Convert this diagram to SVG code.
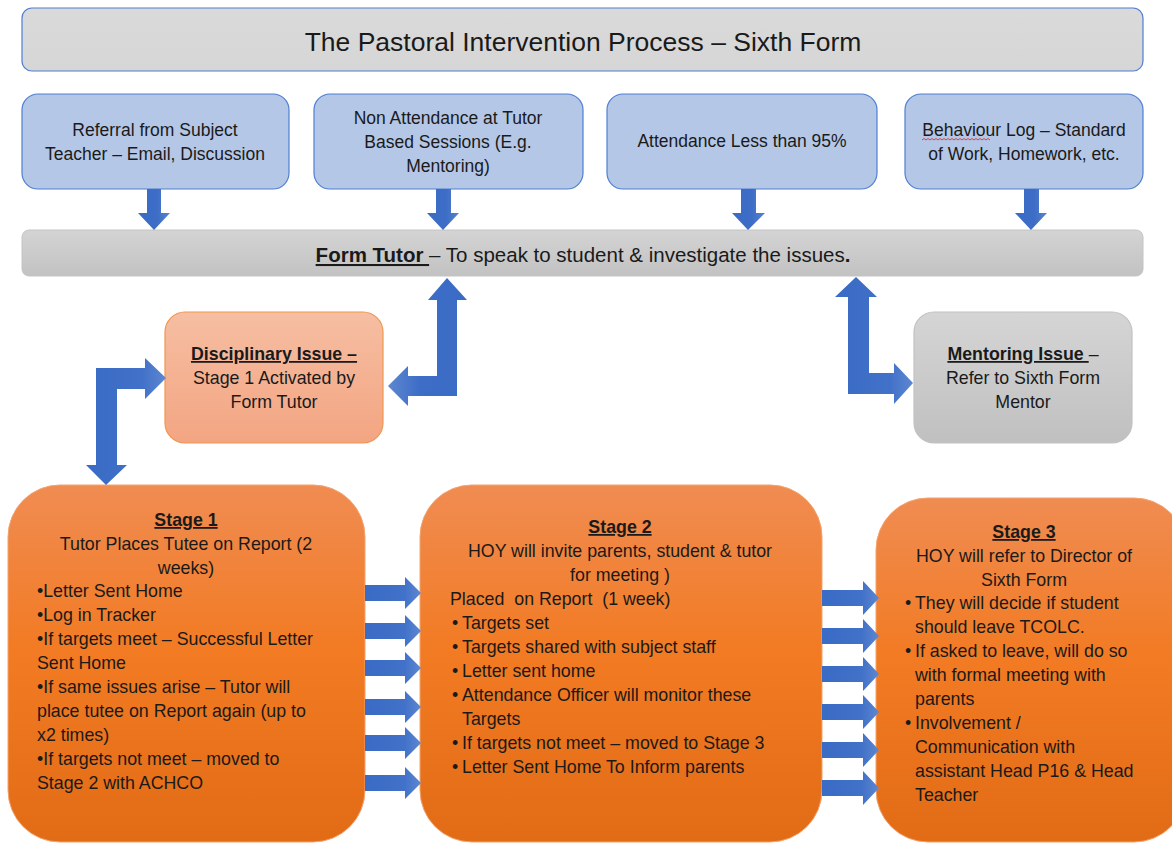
<svg xmlns="http://www.w3.org/2000/svg" width="1172" height="843" viewBox="0 0 1172 843">
<defs>
<style>
text{font-family:"Liberation Sans",Arial,sans-serif;fill:#1a1a1a}
.t16{font-size:17.8px}
.tb{font-size:17.5px}
.c{text-anchor:middle}
.b{font-weight:bold}
.u{text-decoration:underline}
.blue{fill:#b4c7e7;stroke:#4f7fd2;stroke-width:1.2}
.arr{fill:url(#ga)}
.arrh{fill:url(#gh)}
</style>
<linearGradient id="gtitle" x1="0" y1="0" x2="0" y2="1"><stop offset="0" stop-color="#dadada"/><stop offset="1" stop-color="#d6d6d6"/></linearGradient>
<linearGradient id="gbar" x1="0" y1="0" x2="0" y2="1"><stop offset="0" stop-color="#d4d4d4"/><stop offset="1" stop-color="#c2c2c2"/></linearGradient>
<linearGradient id="gdisc" x1="0" y1="0" x2="0" y2="1"><stop offset="0" stop-color="#f6bea3"/><stop offset="1" stop-color="#f3a582"/></linearGradient>
<linearGradient id="gment" x1="0" y1="0" x2="0" y2="1"><stop offset="0" stop-color="#d5d5d5"/><stop offset="1" stop-color="#c0c0c0"/></linearGradient>
<linearGradient id="gstage" x1="0" y1="0" x2="0" y2="1"><stop offset="0" stop-color="#f08c52"/><stop offset="0.45" stop-color="#f27b24"/><stop offset="1" stop-color="#e26b15"/></linearGradient>
<linearGradient id="ga" x1="0" y1="0" x2="1" y2="0"><stop offset="0" stop-color="#3a6bc5"/><stop offset="0.6" stop-color="#3d6dc6"/><stop offset="1" stop-color="#5882cf"/></linearGradient>
<linearGradient id="gh" x1="0" y1="0" x2="1" y2="0"><stop offset="0" stop-color="#3a6bc5"/><stop offset="0.7" stop-color="#4171c8"/><stop offset="1" stop-color="#5d87d1"/></linearGradient>
<linearGradient id="gl" x1="1" y1="0" x2="0" y2="0"><stop offset="0" stop-color="#3a6bc5"/><stop offset="0.6" stop-color="#3d6dc6"/><stop offset="1" stop-color="#5d87d1"/></linearGradient>
</defs>
<rect width="1172" height="843" fill="#ffffff"/>

<g id="title">
<rect x="22" y="8" width="1121" height="63" rx="10" fill="url(#gtitle)" stroke="#4f7fd2" stroke-width="1.2"/>
<text x="583" y="51" class="c" style="font-size:26.5px">The Pastoral Intervention Process – Sixth Form</text>
</g>

<g id="referral">
<rect x="22" y="94" width="267" height="95" rx="16" class="blue"/>
<text class="tb c" x="155" y="136">Referral from Subject</text>
<text class="tb c" x="155" y="160">Teacher – Email, Discussion</text>
</g>
<g id="non-attendance">
<rect x="314" y="94" width="269" height="95" rx="16" class="blue"/>
<text class="tb c" x="448" y="124">Non Attendance at Tutor</text>
<text class="tb c" x="448" y="148">Based Sessions (E.g.</text>
<text class="tb c" x="448" y="172">Mentoring)</text>
</g>
<g id="attendance">
<rect x="607" y="94" width="270" height="95" rx="16" class="blue"/>
<text class="tb c" x="742" y="147">Attendance Less than 95%</text>
</g>
<g id="behaviour">
<rect x="905" y="94" width="238" height="95" rx="16" class="blue"/>
<text class="tb c" x="1024" y="136">Behaviour Log – Standard</text>
<text class="tb c" x="1024" y="160">of Work, Homework, etc.</text>
<path d="M922 140 l2 -1.5 l2 1.5 l2 -1.5 l2 1.5 l2 -1.5 l2 1.5 l2 -1.5 l2 1.5 l2 -1.5 l2 1.5 l2 -1.5 l2 1.5 l2 -1.5 l2 1.5 l2 -1.5 l2 1.5 l2 -1.5 l2 1.5 l2 -1.5 l2 1.5 l2 -1.5 l2 1.5 l2 -1.5 l2 1.5 l2 -1.5 l2 1.5 l2 -1.5 l2 1.5 l2 -1.5 l2 1.5 l2 -1.5 l2 1.5 l2 -1.5 l2 1.5" fill="none" stroke="#e02020" stroke-width="0.8"/>
</g>

<g id="form-tutor">
<rect x="22" y="230" width="1121" height="46" rx="7" fill="url(#gbar)" stroke="#c4c4c4" stroke-width="1"/>
<text x="583" y="262" class="c" style="font-size:20.5px"><tspan class="b u">Form Tutor </tspan> – To speak to student &amp; investigate the issues<tspan class="b">.</tspan></text>
</g>

<g id="disciplinary">
<rect x="165" y="312" width="218" height="131" rx="20" fill="url(#gdisc)" stroke="#f0974f" stroke-width="1.2"/>
<text class="t16 c" x="274" y="360"><tspan class="b u">Disciplinary Issue –</tspan></text>
<text class="t16 c" x="274" y="384">Stage 1 Activated by</text>
<text class="t16 c" x="274" y="408">Form Tutor</text>
</g>

<g id="mentoring">
<rect x="914" y="312" width="218" height="131" rx="20" fill="url(#gment)" stroke="#c2c2c2" stroke-width="1.2"/>
<text class="t16 c" x="1023" y="360"><tspan class="b u">Mentoring Issue </tspan>–</text>
<text class="t16 c" x="1023" y="384">Refer to Sixth Form</text>
<text class="t16 c" x="1023" y="408">Mentor</text>
</g>

<g id="stage1">
<rect x="8" y="485" width="357" height="357" rx="52" fill="url(#gstage)" stroke="#f3a36e" stroke-width="1"/>
<text class="t16 c" x="186" y="526"><tspan class="b u">Stage 1</tspan></text>
<text class="t16 c" x="186" y="550">Tutor Places Tutee on Report (2</text>
<text class="t16 c" x="186" y="574">weeks)</text>
<text class="t16" x="37" y="597">•Letter Sent Home</text>
<text class="t16" x="37" y="621">•Log in Tracker</text>
<text class="t16" x="37" y="645">•If targets meet – Successful Letter</text>
<text class="t16" x="37" y="669">Sent Home</text>
<text class="t16" x="37" y="693">•If same issues arise – Tutor will</text>
<text class="t16" x="37" y="717">place tutee on Report again (up to</text>
<text class="t16" x="37" y="741">x2 times)</text>
<text class="t16" x="37" y="765">•If targets not meet – moved to</text>
<text class="t16" x="37" y="789">Stage 2 with ACHCO</text>
</g>

<g id="stage2">
<rect x="420" y="485" width="402" height="357" rx="52" fill="url(#gstage)" stroke="#f3a36e" stroke-width="1"/>
<text class="t16 c" x="620" y="533"><tspan class="b u">Stage 2</tspan></text>
<text class="t16 c" x="620" y="557">HOY will invite parents, student &amp; tutor</text>
<text class="t16 c" x="620" y="581">for meeting )</text>
<text class="t16" x="450" y="605" xml:space="preserve">Placed  on Report  (1 week)</text>
<text class="t16" x="452" y="629">•</text><text class="t16" x="462" y="629">Targets set</text>
<text class="t16" x="452" y="653">•</text><text class="t16" x="462" y="653">Targets shared with subject staff</text>
<text class="t16" x="452" y="677">•</text><text class="t16" x="462" y="677">Letter sent home</text>
<text class="t16" x="452" y="701">•</text><text class="t16" x="462" y="701">Attendance Officer will monitor these</text>
<text class="t16" x="462" y="725">Targets</text>
<text class="t16" x="452" y="749">•</text><text class="t16" x="462" y="749">If targets not meet – moved to Stage 3</text>
<text class="t16" x="452" y="773">•</text><text class="t16" x="462" y="773">Letter Sent Home To Inform parents</text>
</g>

<g id="stage3">
<rect x="876" y="498" width="310" height="344" rx="52" fill="url(#gstage)" stroke="#f3a36e" stroke-width="1"/>
<text class="t16 c" x="1024" y="538"><tspan class="b u">Stage 3</tspan></text>
<text class="t16 c" x="1024" y="562">HOY will refer to Director of</text>
<text class="t16 c" x="1024" y="586">Sixth Form</text>
<text class="t16" x="905" y="609">•</text><text class="t16" x="915" y="609">They will decide if student</text>
<text class="t16" x="915" y="633">should leave TCOLC.</text>
<text class="t16" x="905" y="657">•</text><text class="t16" x="915" y="657">If asked to leave, will do so</text>
<text class="t16" x="915" y="681">with formal meeting with</text>
<text class="t16" x="915" y="705">parents</text>
<text class="t16" x="905" y="729">•</text><text class="t16" x="915" y="729">Involvement /</text>
<text class="t16" x="915" y="753">Communication with</text>
<text class="t16" x="915" y="777">assistant Head P16 &amp; Head</text>
<text class="t16" x="915" y="801">Teacher</text>
</g>

<g id="connectors">
<polygon class="arr" points="147,189 161,189 161,213 170,213 154,230 138,213 147,213"/>
<polygon class="arr" points="436,189 451,189 451,213 459,213 443,230 427,213 436,213"/>
<polygon class="arr" points="741,189 756,189 756,213 765,213 748,230 732,213 741,213"/>
<polygon class="arr" points="1024,189 1039,189 1039,213 1047,213 1031,230 1015,213 1024,213"/>
<polygon fill="url(#gl)" points="388,386 408,366 408,376 437,376 437,300 428,300 447,278 467,300 457,300 457,396 408,396 408,406"/>
<polygon class="arrh" points="913,383 894,363 894,373 869,373 869,297 877,297 856,277 835,297 848,297 848,394 894,394 894,404"/>
<polygon class="arrh" points="166,378 145,358 145,368 96,368 96,465 86,465 106,485 127,465 117,465 117,389 145,389 145,399"/>
<g class="arrh">
<polygon points="365,585 405,585 405,577 421,593 405,609 405,601 365,601"/>
<polygon points="365,623 405,623 405,615 421,631 405,647 405,639 365,639"/>
<polygon points="365,660 405,660 405,652 421,668 405,684 405,676 365,676"/>
<polygon points="365,699 405,699 405,691 421,707 405,723 405,715 365,715"/>
<polygon points="365,735 405,735 405,727 421,743 405,759 405,751 365,751"/>
<polygon points="365,775 405,775 405,767 421,783 405,799 405,791 365,791"/>
</g>
<g class="arrh">
<polygon points="822,590 863,590 863,581 879,598 863,615 863,606 822,606"/>
<polygon points="822,628 863,628 863,619 879,636 863,653 863,644 822,644"/>
<polygon points="822,666 863,666 863,657 879,674 863,691 863,682 822,682"/>
<polygon points="822,704 863,704 863,695 879,712 863,729 863,720 822,720"/>
<polygon points="822,742 863,742 863,733 879,750 863,767 863,758 822,758"/>
<polygon points="822,780 863,780 863,771 879,788 863,805 863,796 822,796"/>
</g>
</g>
</svg>
